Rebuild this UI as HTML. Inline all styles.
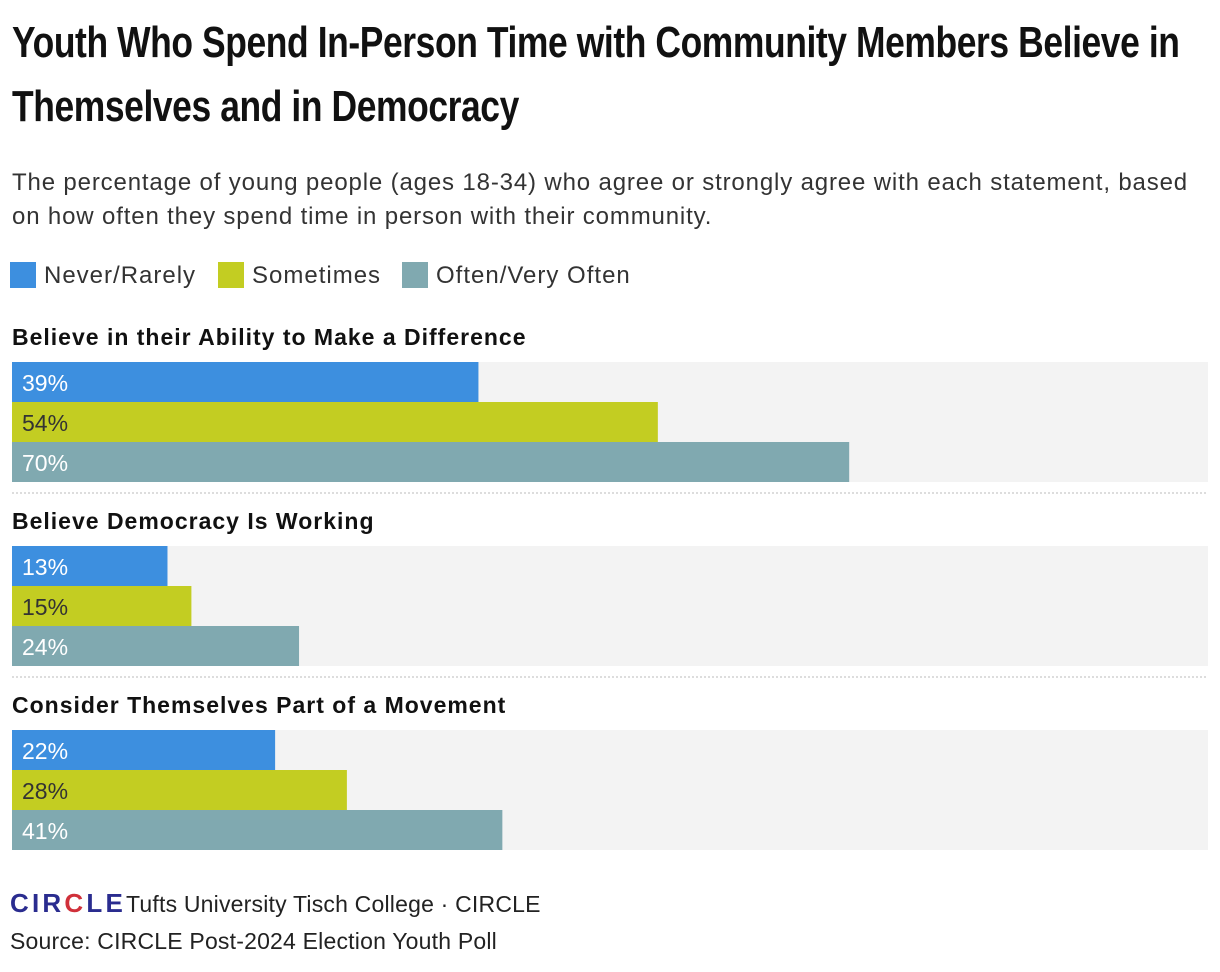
<!DOCTYPE html>
<html><head><meta charset="utf-8"><style>
body{margin:0;width:1220px;height:972px;background:#fff;font-family:"Liberation Sans",sans-serif;color:#1a1a1a;position:relative;overflow:hidden}
.abs{position:absolute}
.title{left:12px;font-weight:bold;font-size:44px;white-space:nowrap;transform-origin:0 0;transform:scaleX(0.805);letter-spacing:-0.5px;color:#111}
.sub{left:12px;top:166px;font-size:24px;line-height:34px;color:#333;width:1200px;letter-spacing:0.85px;white-space:nowrap}
.leg{top:262px;font-size:24px;color:#333;letter-spacing:1px}
.sw{display:inline-block;width:26px;height:26px;vertical-align:-5px;margin-right:8px}
</style></head><body>
<div class="abs title" style="top:18px">Youth Who Spend In-Person Time with Community Members Believe in</div>
<div class="abs title" style="top:82px">Themselves and in Democracy</div>
<div class="abs sub">The percentage of young people (ages 18-34) who agree or strongly agree with each statement, based<br>on how often they spend time in person with their community.</div>
<div class="abs leg" style="left:10px"><span class="sw" style="background:#3d8fdf"></span>Never/Rarely</div>
<div class="abs leg" style="left:218px"><span class="sw" style="background:#c3cd22"></span>Sometimes</div>
<div class="abs leg" style="left:402px"><span class="sw" style="background:#80a9b0"></span>Often/Very Often</div>
<svg class="abs" style="left:0;top:0" width="1220" height="972" id="chart"></svg>
<div class="abs" style="left:10px;top:888px;font-size:23px;color:#222;letter-spacing:0.2px"><span style="font-weight:900;color:#2a2c8f;font-size:26px;letter-spacing:3.2px">CIR<span style="color:#d0303a">C</span>LE</span>Tufts University Tisch College · CIRCLE</div>
<div class="abs" style="left:10px;top:928px;font-size:23px;color:#222;letter-spacing:0.2px">Source: CIRCLE Post-2024 Election Youth Poll</div>
<script>
const groups=["Believe in their Ability to Make a Difference","Believe Democracy Is Working","Consider Themselves Part of a Movement"];
const neverRarely=[39,13,22];
const sometimes=[54,15,28];
const often=[70,24,41];
const series=[neverRarely,sometimes,often];
const colors=["#3d8fdf","#c3cd22","#80a9b0"];
const textCol=["#fff","#333","#fff"];
const svg=document.getElementById('chart');
const NS="http://www.w3.org/2000/svg";
const x0=12,x1=1208;
const xs=v=>x0+(x1-x0)*v/100;
function mk(t,a){const e=document.createElementNS(NS,t);for(const k in a)e.setAttribute(k,a[k]);svg.appendChild(e);return e;}
groups.forEach((g,gi)=>{
  const top=362+gi*184;
  const t=mk('text',{x:12,y:top-17,'font-size':23,'font-weight':'bold',fill:'#111','letter-spacing':'1px','font-family':'Liberation Sans, sans-serif'});
  t.textContent=g;
  
  
  const bg=mk('rect',{x:x0,y:top,width:x1-x0,height:120,fill:'#f3f3f3'});
  
  
  series.forEach((s,si)=>{
    const y=top+si*40;
    const r=mk('rect',{x:x0,y:y,width:xs(s[gi])-x0,height:40,fill:colors[si]});
    
    
    const l=mk('text',{x:22,y:y+29,'font-size':23,fill:textCol[si],'font-family':'Liberation Sans, sans-serif'});
    l.textContent=s[gi]+'%';
    
    
  });
  if(gi<groups.length-1){
    const d=mk('line',{x1:x0,x2:x1,y1:top+131,y2:top+131,stroke:'#bbb','stroke-dasharray':'2,2'});
    
    
  }
});
</script>
</body></html>
